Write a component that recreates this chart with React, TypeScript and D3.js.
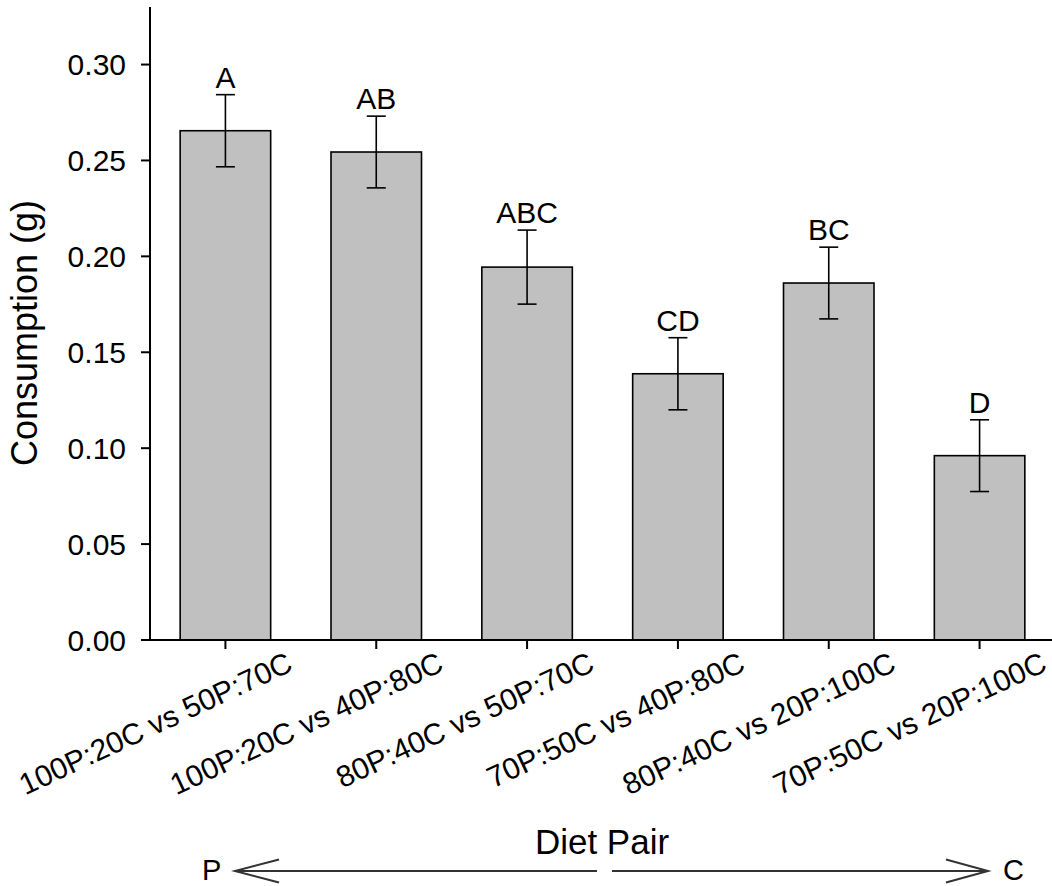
import React from "react";
import * as d3 from "d3";

const categories = [
  "100P:20C vs 50P:70C",
  "100P:20C vs 40P:80C",
  "80P:40C vs 50P:70C",
  "70P:50C vs 40P:80C",
  "80P:40C vs 20P:100C",
  "70P:50C vs 20P:100C",
];
const means = [0.2655, 0.2544, 0.1944, 0.1388, 0.1861, 0.0961];
const se = [0.0188, 0.0187, 0.0193, 0.0188, 0.0187, 0.0187];
const letters = ["A", "AB", "ABC", "CD", "BC", "D"];
const yTicks = [0, 0.05, 0.1, 0.15, 0.2, 0.25, 0.3];

const W = 1052;
const H = 886;
const FONT = "'Liberation Sans', Arial, Helvetica, sans-serif";

export default function App() {
  const x = d3
    .scaleBand<string>()
    .domain(categories)
    .range([150, 1055])
    .paddingInner(0.4)
    .paddingOuter(0.2);
  const y = d3.scaleLinear().domain([0, 0.33]).range([640, 7]);
  const fmt = d3.format(".2f");
  const bw = x.bandwidth();
  const cap = 9.5;
  const angle = -25;

  return (
    <svg
      width={W}
      height={H}
      style={{ position: "absolute", left: 0, top: 0, background: "#fff" }}
      fontFamily={FONT}
    >
      <rect x={0} y={0} width={W} height={H} fill="#fff" />
      {/* bars */}
      {categories.map((c, i) => (
        <rect
          key={c}
          x={x(c)}
          y={y(means[i])}
          width={bw}
          height={y(0) - y(means[i])}
          fill="#c0c0c0"
          stroke="#000"
          strokeWidth={1.6}
        />
      ))}
      {/* error bars */}
      {categories.map((c, i) => {
        const cx = (x(c) as number) + bw / 2;
        const yt = y(means[i] + se[i]);
        const yb = y(means[i] - se[i]);
        return (
          <g key={"e" + c} stroke="#000" strokeWidth={1.6}>
            <line x1={cx} x2={cx} y1={yt} y2={yb} />
            <line x1={cx - cap} x2={cx + cap} y1={yt} y2={yt} />
            <line x1={cx - cap} x2={cx + cap} y1={yb} y2={yb} />
          </g>
        );
      })}
      {/* letters */}
      {categories.map((c, i) => (
        <text
          key={"l" + c}
          x={(x(c) as number) + bw / 2}
          y={y(means[i] + se[i]) - 7}
          textAnchor="middle"
          fontSize={30}
        >
          {letters[i]}
        </text>
      ))}
      {/* y axis */}
      <line x1={150} x2={150} y1={y(0.33)} y2={y(0)} stroke="#000" strokeWidth={2} />
      {yTicks.map((t) => (
        <g key={"yt" + t}>
          <line x1={141} x2={150} y1={y(t)} y2={y(t)} stroke="#000" strokeWidth={2} />
          <text x={126} y={y(t)} dy="0.36em" textAnchor="end" fontSize={30}>
            {fmt(t)}
          </text>
        </g>
      ))}
      {/* x axis */}
      <line x1={141} x2={W} y1={y(0)} y2={y(0)} stroke="#000" strokeWidth={2} />
      {categories.map((c) => {
        const cx = (x(c) as number) + bw / 2;
        return (
          <g key={"xt" + c}>
            <line x1={cx} x2={cx} y1={y(0)} y2={y(0) + 9} stroke="#000" strokeWidth={2} />
            <text
              transform={`translate(${cx + 69},${y(0) + 30}) rotate(${angle})`}
              textAnchor="end"
              fontSize={30}
            >
              {c}
            </text>
          </g>
        );
      })}
      {/* axis titles */}
      <text
        transform={`translate(37,333) rotate(-90)`}
        textAnchor="middle"
        fontSize={36}
      >
        Consumption (g)
      </text>
      <text x={602} y={854} textAnchor="middle" fontSize={35}>
        Diet Pair
      </text>
      {/* arrows */}
      <g stroke="#333" strokeWidth={2} fill="none">
        <line x1={235} x2={597} y1={871} y2={871} />
        <polyline points="279,859.5 235,871 279,882.5" />
        <line x1={612} x2={988} y1={871} y2={871} />
        <polyline points="946,859.5 988,871 946,882.5" />
      </g>
      <text x={202} y={879.5} fontSize={29}>
        P
      </text>
      <text x={1003} y={879.5} fontSize={29}>
        C
      </text>
    </svg>
  );
}
